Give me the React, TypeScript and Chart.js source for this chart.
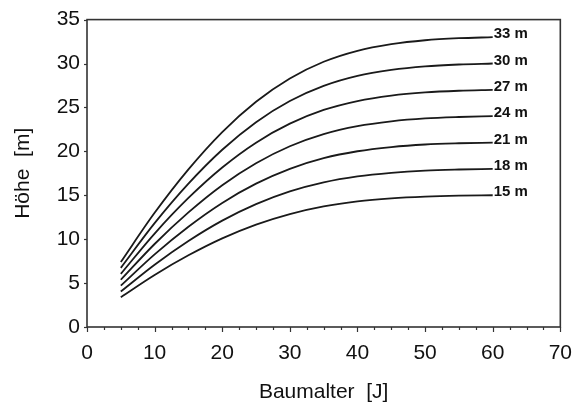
import React, { useEffect, useRef } from 'react';
import { Chart, registerables } from 'chart.js';

Chart.register(...registerables);

const ages = [5, 10, 15, 20, 25, 30, 35, 40, 45, 50, 55, 60];
const site33 = [7.4, 13.0, 17.95, 22.2, 25.65, 28.3, 30.2, 31.45, 32.2, 32.65, 32.88, 33.0];
const site30 = [6.73, 11.82, 16.32, 20.18, 23.32, 25.73, 27.45, 28.59, 29.27, 29.68, 29.89, 30.0];
const site27 = [6.05, 10.64, 14.69, 18.16, 20.99, 23.15, 24.71, 25.73, 26.35, 26.71, 26.9, 27.0];
const site24 = [5.38, 9.45, 13.05, 16.15, 18.65, 20.58, 21.96, 22.87, 23.42, 23.75, 23.91, 24.0];
const site21 = [4.71, 8.27, 11.42, 14.13, 16.32, 18.01, 19.22, 20.01, 20.49, 20.78, 20.92, 21.0];
const site18 = [4.04, 7.09, 9.79, 12.11, 13.99, 15.44, 16.47, 17.15, 17.56, 17.81, 17.93, 18.0];
const site15 = [3.4, 5.93, 8.16, 10.09, 11.66, 12.86, 13.73, 14.3, 14.64, 14.84, 14.95, 15.0];

const seriesValues = [site33, site30, site27, site24, site21, site18, site15];
const seriesLabels = ['33 m', '30 m', '27 m', '24 m', '21 m', '18 m', '15 m'];

const xMajorTicks = [0, 10, 20, 30, 40, 50, 60, 70];
const xMinorStep = 2.5;
const yTicks = [0, 5, 10, 15, 20, 25, 30, 35];

const xTitle = 'Baumalter  [J]';
const yTitle = 'Höhe  [m]';

const FONT = "'Liberation Sans', Arial, Helvetica, sans-serif";

const framePlugin = {
  id: 'frameAndLabels',
  afterDraw(chart: any) {
    const { ctx, chartArea } = chart;
    const xs = chart.scales.x;
    const ys = chart.scales.y;
    ctx.save();
    ctx.strokeStyle = '#333';
    ctx.lineWidth = 1.6;
    ctx.strokeRect(chartArea.left, chartArea.top, chartArea.right - chartArea.left, chartArea.bottom - chartArea.top);
    ctx.lineWidth = 1.2;
    for (let v = 0; v <= 70 + 1e-6; v += xMinorStep) {
      const px = Math.round(xs.getPixelForValue(v)) + 0.5;
      const major = xMajorTicks.includes(v);
      ctx.beginPath();
      ctx.moveTo(px, chartArea.bottom);
      ctx.lineTo(px, chartArea.bottom + (major ? 5 : 3));
      ctx.stroke();
    }
    for (const v of yTicks) {
      const py = Math.round(ys.getPixelForValue(v)) + 0.5;
      ctx.beginPath();
      ctx.moveTo(chartArea.left, py);
      ctx.lineTo(chartArea.left - 3, py);
      ctx.stroke();
    }
    ctx.fillStyle = '#111';
    ctx.font = `bold 15px ${FONT}`;
    ctx.textAlign = 'left';
    ctx.textBaseline = 'alphabetic';
    seriesValues.forEach((vals, i) => {
      const px = xs.getPixelForValue(ages[ages.length - 1]);
      const py = ys.getPixelForValue(vals[vals.length - 1]);
      ctx.fillText(seriesLabels[i], px + 1, py + 1);
    });
    ctx.restore();
  },
};

export default function App() {
  const canvasRef = useRef<HTMLCanvasElement | null>(null);

  useEffect(() => {
    document.body.style.margin = '0';
    const canvas = canvasRef.current;
    if (!canvas) return;
    const chart = new Chart(canvas, {
      type: 'line',
      data: {
        datasets: seriesValues.map((vals, i) => ({
          label: seriesLabels[i],
          data: ages.map((a, j) => ({ x: a, y: vals[j] })),
          borderColor: '#1a1a1a',
          borderWidth: 1.8,
          pointRadius: 0,
          fill: false,
          cubicInterpolationMode: 'monotone' as const,
        })),
      },
      options: {
        responsive: false,
        animation: false,
        devicePixelRatio: 1,
        layout: { padding: { top: 17, right: 17, left: 0, bottom: 0 } },
        plugins: {
          legend: { display: false },
          tooltip: { enabled: false },
        },
        scales: {
          x: {
            type: 'linear',
            min: 0,
            max: 70,
            ticks: {
              stepSize: 10,
              padding: 14,
              color: '#111',
              font: { family: FONT, size: 21 },
              maxRotation: 0,
              autoSkip: false,
            },
            grid: { display: false, drawTicks: false },
            border: { display: false },
            title: {
              display: true,
              text: xTitle,
              color: '#111',
              font: { family: FONT, size: 21 },
              padding: { top: 0, bottom: 2 },
            },
            afterFit: (s: any) => {
              s.height = 80;
            },
          },
          y: {
            type: 'linear',
            min: 0,
            max: 35,
            ticks: {
              stepSize: 5,
              padding: 7,
              color: '#111',
              font: { family: FONT, size: 21 },
            },
            grid: { display: false, drawTicks: false },
            border: { display: false },
            title: {
              display: true,
              text: yTitle,
              color: '#111',
              font: { family: FONT, size: 21 },
              padding: { top: 11, bottom: 0 },
            },
            afterFit: (s: any) => {
              s.width = 87;
            },
          },
        },
      },
      plugins: [framePlugin],
    });
    return () => chart.destroy();
  }, []);

  return (
    <div style={{ position: 'absolute', left: 0, top: 0, width: 586, height: 407, background: '#fff' }}>
      <canvas ref={canvasRef} width={586} height={407} style={{ display: 'block' }} />
    </div>
  );
}
